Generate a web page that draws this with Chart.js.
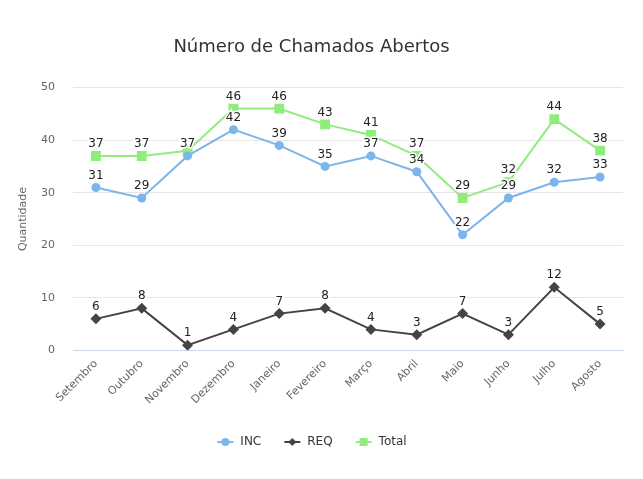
<!DOCTYPE html>
<html>
<head>
<meta charset="utf-8">
<script src="https://cdn.jsdelivr.net/npm/chart.js@4.4.1/dist/chart.umd.min.js"></script>
<style>
  html, body { margin: 0; padding: 0; background: #fff; }
  #wrap { width: 643px; height: 479px; }
</style>
</head>
<body>
<div id="wrap"><canvas id="chamadosChart"></canvas></div>
<script>
const meses = ['Setembro', 'Outubro', 'Novembro', 'Dezembro', 'Janeiro', 'Fevereiro', 'Março', 'Abril', 'Maio', 'Junho', 'Julho', 'Agosto'];
const inc = [31, 29, 37, 42, 39, 35, 37, 34, 22, 29, 32, 33];
const req = [6, 8, 1, 4, 7, 8, 4, 3, 7, 3, 12, 5];
const total = [37, 37, 38, 46, 46, 43, 41, 37, 29, 32, 44, 38];
const yTicks = [0, 10, 20, 30, 40, 50];

const FONT = '"DejaVu Sans", "Liberation Sans", sans-serif';

// small legend symbol: line with marker in the middle
function legendSymbol(color, shape) {
    const c = document.createElement('canvas');
    c.width = 18; c.height = 12;
    const g = c.getContext('2d');
    g.strokeStyle = color; g.fillStyle = color; g.lineWidth = 2;
    g.beginPath(); g.moveTo(1, 6); g.lineTo(17, 6); g.stroke();
    g.beginPath();
    if (shape === 'circle') g.arc(9, 6, 4, 0, Math.PI * 2);
    else if (shape === 'diamond') { g.moveTo(9, 2); g.lineTo(13, 6); g.lineTo(9, 10); g.lineTo(5, 6); g.closePath(); }
    else g.rect(5, 2, 8, 8);
    g.fill();
    return c;
}

// data labels drawn above points, hiding ones that collide
const pointLabels = {
    id: 'pointLabels',
    afterDatasetsDraw(chart) {
        const ctx = chart.ctx;
        const boxes = [];
        ctx.save();
        ctx.font = '12px ' + FONT;
        ctx.textAlign = 'center';
        ctx.textBaseline = 'bottom';
        chart.data.datasets.forEach((ds, i) => {
            const meta = chart.getDatasetMeta(i);
            meta.data.forEach((pt, j) => {
                const txt = String(ds.data[j]);
                const w = ctx.measureText(txt).width;
                const y = pt.y - 6;
                const b = { l: pt.x - w / 2 - 2, r: pt.x + w / 2 + 2, t: y - 14, btm: y };
                if (boxes.some(o => b.l < o.r && b.r > o.l && b.t < o.btm && b.btm > o.t)) return;
                boxes.push(b);
                ctx.lineWidth = 3;
                ctx.strokeStyle = '#ffffff';
                ctx.strokeText(txt, pt.x, y);
                ctx.fillStyle = '#222';
                ctx.fillText(txt, pt.x, y);
            });
        });
        ctx.restore();
    }
};

new Chart(document.getElementById('chamadosChart'), {
    type: 'line',
    data: {
        labels: meses,
        datasets: [{
            label: 'INC',
            data: inc,
            borderColor: '#7cb5ec',
            backgroundColor: '#7cb5ec',
            pointStyle: 'circle',
            pointRadius: 4.5,
            legendImg: legendSymbol('#7cb5ec', 'circle')
        }, {
            label: 'REQ',
            data: req,
            borderColor: '#434348',
            backgroundColor: '#434348',
            pointStyle: 'rectRot',
            pointRadius: 5.5,
            legendImg: legendSymbol('#434348', 'diamond')
        }, {
            label: 'Total',
            data: total,
            borderColor: '#90ed7d',
            backgroundColor: '#90ed7d',
            pointStyle: 'rect',
            pointRadius: 7,
            legendImg: legendSymbol('#90ed7d', 'square')
        }]
    },
    options: {
        responsive: true,
        maintainAspectRatio: false,
        animation: false,
        layout: { padding: { left: 0, right: 20, top: 0, bottom: 21 } },
        elements: {
            line: { borderWidth: 2, tension: 0 },
            point: { borderWidth: 0, hoverRadius: 5 }
        },
        scales: {
            x: {
                offset: true,
                grid: { display: false, drawTicks: false },
                border: { color: '#ccd6eb', width: 1 },
                ticks: {
                    color: '#666',
                    font: { family: FONT, size: 11 },
                    maxRotation: 45,
                    minRotation: 45,
                    padding: 7
                }
            },
            y: {
                min: 0,
                max: 50,
                afterBuildTicks(axis) { axis.ticks = yTicks.map(v => ({ value: v })); },
                afterFit(axis) { axis.width = 73; },
                grid: { color: '#e6e6e6', drawTicks: false },
                border: { display: false },
                ticks: {
                    color: '#666',
                    font: { family: FONT, size: 11 },
                    padding: 18
                },
                title: {
                    display: true,
                    text: 'Quantidade',
                    color: '#666',
                    font: { family: FONT, size: 11 },
                    padding: { top: 17, bottom: 0 }
                }
            }
        },
        plugins: {
            title: {
                display: true,
                text: 'Número de Chamados Abertos',
                color: '#333',
                font: { family: FONT, size: 18, weight: 'normal' },
                padding: { top: 37, bottom: 29 }
            },
            legend: {
                position: 'bottom',
                labels: {
                    color: '#333',
                    font: { family: FONT, size: 12 },
                    usePointStyle: true,
                    pointStyleWidth: 18,
                    padding: 22,
                    generateLabels(chart) {
                        return chart.data.datasets.map((ds, i) => ({
                            text: ds.label,
                            pointStyle: ds.legendImg,
                            fontColor: '#333',
                            hidden: false,
                            datasetIndex: i,
                            lineWidth: 0
                        }));
                    }
                }
            },
            tooltip: { enabled: false }
        }
    },
    plugins: [pointLabels]
});
</script>
</body>
</html>
